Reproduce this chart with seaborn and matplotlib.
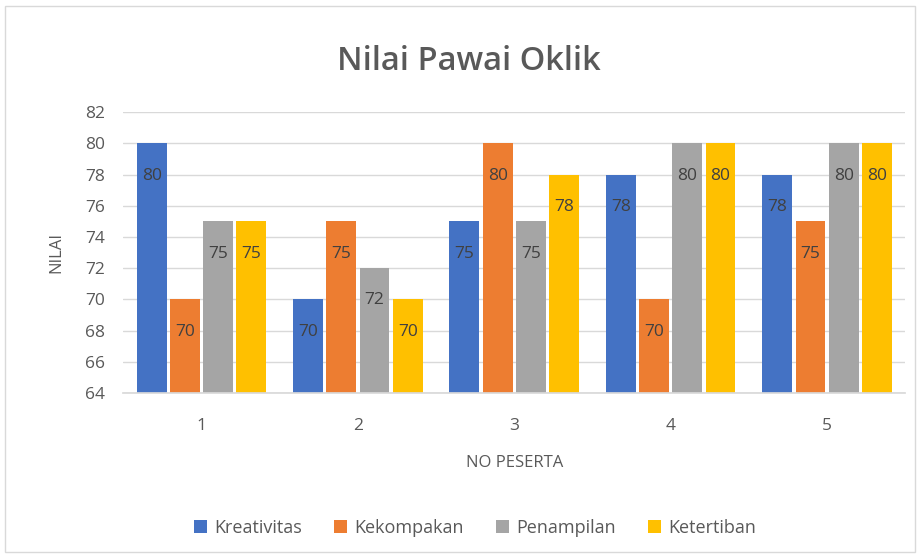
import matplotlib
matplotlib.use("Agg")
import matplotlib.pyplot as plt
import seaborn as sns
import pandas as pd
from matplotlib.patches import Rectangle

peserta = ["1", "2", "3", "4", "5"]
series = ["Kreativitas", "Kekompakan", "Penampilan", "Ketertiban"]
kreativitas = [80, 70, 75, 78, 78]
kekompakan = [70, 75, 80, 70, 75]
penampilan = [75, 72, 75, 80, 80]
ketertiban = [75, 70, 78, 80, 80]
colors = ["#4472C4", "#ED7D31", "#A5A5A5", "#FFC000"]

rows = []
for name, vals in zip(series, [kreativitas, kekompakan, penampilan, ketertiban]):
    for p, v in zip(peserta, vals):
        rows.append({"NO PESERTA": p, "NILAI": v, "Seri": name})
df = pd.DataFrame(rows)

sns.set_theme(style="white")
plt.rcParams["font.family"] = ["Open Sans", "DejaVu Sans"]

fig = plt.figure(figsize=(9.2, 5.55), dpi=100)
ax = fig.add_axes([0.134, 0.292, 0.850, 0.506])

sns.barplot(data=df, x="NO PESERTA", y="NILAI", hue="Seri", order=peserta,
            hue_order=series, palette=colors, width=0.85, gap=0.1,
            ax=ax, legend=True, saturation=1, linewidth=0)

ax.set_ylim(64, 82)
ax.set_yticks(range(64, 83, 2))
ax.yaxis.grid(True, color="#D9D9D9", linewidth=1)
ax.set_axisbelow(True)
for s in ["top", "right", "left"]:
    ax.spines[s].set_visible(False)
ax.spines["bottom"].set_color("#D9D9D9")
ax.tick_params(axis="both", length=0, labelsize=12.5, colors="#595959")
ax.tick_params(axis="x", pad=18)
ax.tick_params(axis="y", pad=13)
ax.set_xlabel("NO PESERTA", fontsize=12, color="#595959", labelpad=15)
ax.set_ylabel("NILAI", fontsize=12, color="#595959", labelpad=15)

for cont in ax.containers:
    ax.bar_label(cont, fmt="%d", padding=-29, fontsize=12.5, color="#404040")

leg = ax.legend(loc="upper center", bbox_to_anchor=(0.45, -0.39), ncol=4,
                frameon=False, fontsize=13, handlelength=0.7, handleheight=0.7,
                columnspacing=1.8, handletextpad=0.4)
for t in leg.get_texts():
    t.set_color("#595959")

fig.text(0.51, 0.89, "Nilai Pawai Oklik", ha="center", va="center",
         fontsize=23.5, fontweight="semibold", color="#595959")

fig.patches.append(Rectangle((0.005, 0.005), 0.99, 0.985, transform=fig.transFigure,
                             fill=False, edgecolor="#D9D9D9", linewidth=1))

fig.savefig("out.png", dpi=100)
